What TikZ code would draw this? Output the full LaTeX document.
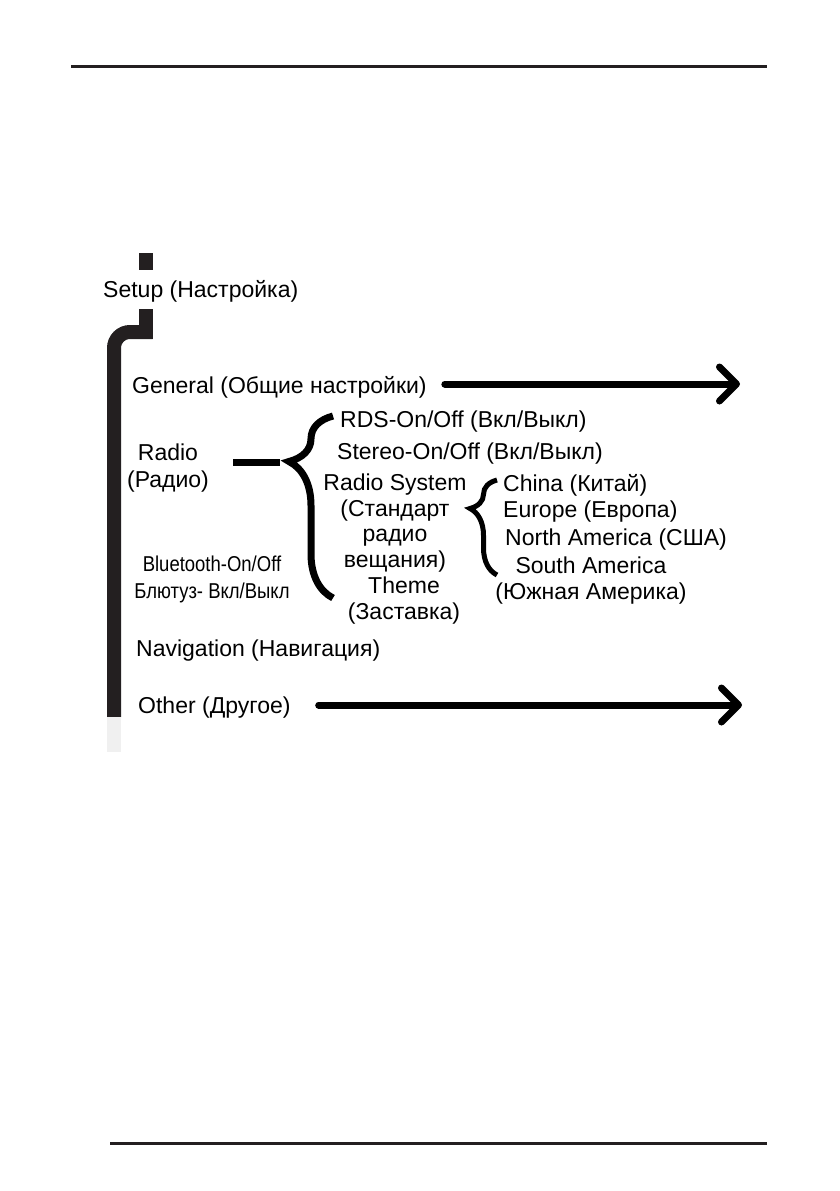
\documentclass[tikz,border=0pt]{standalone}
\usepackage{fontspec}
\setmainfont{Liberation Sans}
\newfontfamily\narrowfont[FakeStretch=0.86]{Liberation Sans}
\usetikzlibrary{arrows.meta,decorations.pathreplacing}
\definecolor{ink}{HTML}{231F20}
\begin{document}
\begin{tikzpicture}[x=1pt,y=-1pt,font=\fontsize{23}{25.5}\selectfont,
  label/.style={inner sep=0pt,anchor=base west},
  block/.style={inner sep=0pt,align=center,anchor=north},
  trunk/.style={ink,line width=14pt},
  stem/.style={line width=7pt},
  flow/.style={line width=7pt,line cap=round,-{Straight Barb[length=17pt,width=34pt,round]}},
  bigbrace/.style={line width=7pt,decorate,decoration={brace,amplitude=44pt,aspect=0.75}},
  smallbrace/.style={line width=5pt,decorate,decoration={brace,amplitude=27pt,aspect=0.7}}]
\useasboundingbox (0,0) rectangle (839,1191);
\draw[ink,line width=3pt] (71,66.5) -- (767,66.5);
\draw[ink,line width=3pt] (110,1143) -- (767,1143);

\node[label] (setup) at (103,297) {Setup (Настройка)};
\node[label] (general) at (132,393) {General (Общие настройки)};
\node[block,font=\fontsize{23}{26.5}\selectfont] (radio) at (168,444) {Radio\\(Радио)};
\node[label] (rds) at (340,427) {RDS-On/Off (Вкл/Выкл)};
\node[label] (stereo) at (337,459) {Stereo-On/Off (Вкл/Выкл)};
\node[block] (system) at (395,474) {Radio System\\(Стандарт\\радио\\вещания)};
\node[block] (theme) at (404,577) {Theme\\(Заставка)};
\node[label] (china) at (503,491) {China (Китай)};
\node[label] (europe) at (503,517) {Europe (Европа)};
\node[label] (north) at (505,545) {North America (США)};
\node[block] (south) at (591,557) {South America\\(Южная Америка)};
\node[block,font=\narrowfont\fontsize{21.5}{26.5}\selectfont] (bluetooth) at (212,556) {Bluetooth-On/Off\\Блютуз- Вкл/Выкл};
\node[label] (navigation) at (136,656) {Navigation (Навигация)};
\node[label] (other) at (138,713) {Other (Другое)};

\coordinate (trunktop) at (145.5,309);
\coordinate (trunkend) at (114,717);
\draw[trunk] (145.5,253) -- (145.5,270);
\draw[trunk] (trunktop) -- (145.5,339);
\draw[trunk,rounded corners=16pt] (152.5,332) -- (114,332) -- (trunkend);
\draw[line width=14pt,black!6] (trunkend) -- ++(0,35);

\coordinate (generalend) at (740,384);
\draw[flow] ([xshift=18pt]general.east |- generalend) -- (generalend);
\coordinate (otherend) at (742,705);
\draw[flow] ([xshift=28pt]other.east |- otherend) -- (otherend);

\coordinate (dashstart) at (233,462);
\coordinate (bracetip) at (280,462);
\draw[stem] (dashstart) -- (bracetip);
\draw[bigbrace] (333,598) -- (333,416);
\draw[smallbrace] (497,575) -- (497,480);
\end{tikzpicture}
\end{document}
